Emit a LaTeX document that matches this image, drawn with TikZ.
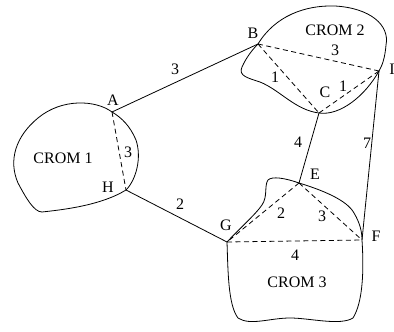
\documentclass[tikz,border=0pt]{standalone}
\usepackage{fontspec}
\setmainfont{Liberation Serif}
\begin{document}
\begin{tikzpicture}[x=1pt,y=-1pt,line width=0.8pt,
  lbl/.style={inner sep=0pt,font=\fontsize{16}{19}\selectfont},
  sol/.style={draw=black},
  dsh/.style={draw=black,dash pattern=on 5pt off 3.5pt}]
\useasboundingbox (0,0) rectangle (394,332);
% points
\coordinate (A) at (112,112);
\coordinate (H) at (126,190);
\coordinate (B) at (258,44);
\coordinate (I) at (379,71);
\coordinate (C) at (319,113);
\coordinate (E) at (299,183);
\coordinate (F) at (362,240);
\coordinate (G) at (227,242);
% CROM 1
\draw (A) .. controls (96,100) and (62,98) .. (38,118)
  .. controls (16,136) and (8,160) .. (18,183)
  .. controls (26,198) and (34,212) .. (42,212)
  .. controls (60,210) and (100,206) .. (H)
  .. controls (136,180) and (142,158) .. (136,140)
  .. controls (130,126) and (122,118) .. (A);
% CROM 2
\draw (B) .. controls (275,16) and (305,5) .. (335,6)
  .. controls (370,8) and (390,25) .. (386,45)
  .. controls (385,58) and (382,66) .. (I)
  .. controls (365,96) and (340,116) .. (C)
  .. controls (295,110) and (280,90) .. (260,82)
  .. controls (248,78) and (238,76) .. (242,67)
  .. controls (246,58) and (252,50) .. (B);
% CROM 3
\draw (G) .. controls (240,228) and (255,215) .. (262,205)
  .. controls (268,196) and (264,186) .. (268,180)
  .. controls (272,176) and (285,178) .. (E)
  .. controls (322,190) and (347,200) .. (354,213)
  .. controls (360,223) and (362,232) .. (F)
  .. controls (364,270) and (363,302) .. (353,318)
  .. controls (340,326) and (310,318) .. (290,318)
  .. controls (270,318) and (250,326) .. (238,318)
  .. controls (228,305) and (228,270) .. (G);
% solid edges
\draw[sol] (A) -- (B);
\draw[sol] (H) -- (G);
\draw[sol] (C) -- (E);
\draw[sol] (I) -- (F);
% dashed edges
\draw[dsh] (A) -- (H);
\draw[dsh] (B) -- (I);
\draw[dsh] (B) -- (C);
\draw[dsh] (C) -- (I);
\draw[dsh] (E) -- (G);
\draw[dsh] (E) -- (F);
\draw[dsh] (G) -- (F);
% labels
\node[lbl] (lA) at (113,100) {A};
\node[lbl] (lH) at (108,187) {H};
\node[lbl] (lB) at (253,33) {B};
\node[lbl] (lI) at (392,69) {I};
\node[lbl] (lC) at (325,92) {C};
\node[lbl] (lE) at (315,174) {E};
\node[lbl] (lF) at (376,236) {F};
\node[lbl] (lG) at (226,225) {G};
\node[lbl] (w1) at (175,69) {3};
\node[lbl] (w2) at (180,204) {2};
\node[lbl] (w3) at (128,152) {3};
\node[lbl] (w4) at (335,50) {3};
\node[lbl] (w5) at (275,77) {1};
\node[lbl] (w6) at (343,86) {1};
\node[lbl] (w7) at (298,142) {4};
\node[lbl] (w8) at (367,143) {7};
\node[lbl] (w9) at (281,213) {2};
\node[lbl] (w10) at (322,216) {3};
\node[lbl] (w11) at (295,255) {4};
\node[lbl] (c1) at (63,158) {CROM 1};
\node[lbl] (c2) at (335,30) {CROM 2};
\node[lbl] (c3) at (297,282) {CROM 3};
\end{tikzpicture}
\end{document}
